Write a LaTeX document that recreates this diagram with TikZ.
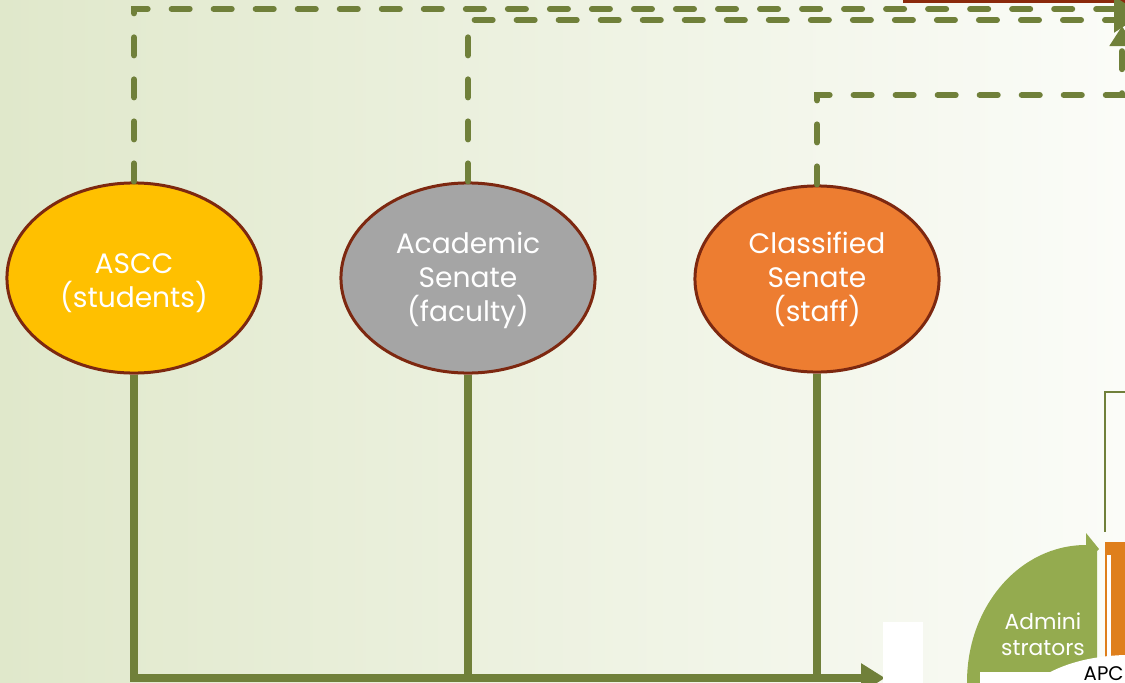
\documentclass[tikz,border=0pt]{standalone}
\usepackage{fontspec}
\setmainfont{Poppins}
\usetikzlibrary{arrows.meta, positioning, shapes.geometric}
\usepackage{xcolor}

\definecolor{bgleft}{RGB}{224,232,203}
\definecolor{bgright}{RGB}{251,252,248}
\definecolor{olivelink}{RGB}{112,128,58}
\definecolor{senateborder}{RGB}{125,40,16}
\definecolor{asccyellow}{RGB}{255,192,0}
\definecolor{facultygray}{RGB}{165,165,165}
\definecolor{stafforange}{RGB}{237,125,49}
\definecolor{admingreen}{RGB}{148,171,79}
\definecolor{barorange}{RGB}{223,127,28}
\definecolor{boxbrown}{RGB}{139,42,12}

\begin{document}
\begin{tikzpicture}[
    x=0.01cm, y=-0.01cm,
    senate/.style={ellipse, draw=senateborder, line width=0.03cm, inner sep=0pt,
        text=white, align=center, font=\fontsize{8}{9.7}\selectfont,
        minimum width=2.54cm, minimum height=1.9cm},
    dashlink/.style={olivelink, line width=0.06cm, line cap=round,
        dash pattern=on 0.18cm off 0.24cm},
    feedlink/.style={olivelink, line width=0.08cm},
    >={Triangle[length=0.24cm, width=0.28cm]}
]

\useasboundingbox (0,0) rectangle (1125,682);
\clip (0,0) rectangle (1125,682);
\shade[left color=bgleft, right color=bgright] (0,0) rectangle (1125,682);

% Nodes placed manually
\node[senate, fill=asccyellow] (ascc) at (134,278) {\rule{0pt}{0.3cm}ASCC\\(students)};
\node[senate, fill=facultygray] (acad) at (468,278) {\rule{0pt}{0.27cm}Academic\\Senate\\(faculty)};
\node[senate, fill=stafforange, minimum width=2.44cm, minimum height=1.86cm]
    (clsf) at (817,279) {Classified\\Senate\\(staff)};

\coordinate (topA) at (1134,9);
\coordinate (topB) at (1134,20);
\coordinate (bendC) at (1122,95);
\coordinate (topC) at (1122,26);
\coordinate (apcin) at (885,678);

% box cut at the top edge
\draw[boxbrown, fill=boxbrown!80!orange, line width=0.03cm] (904,-20) rectangle (1140,2);

% Dashed links to the top
\draw[dashlink, -{Triangle[length=0.2cm, width=0.24cm]}] (ascc.north) |- (topA);
\draw[dashlink, -{Triangle[length=0.2cm, width=0.24cm]}] (acad.north) |- (topB);
\draw[dashlink, -{Triangle[length=0.2cm, width=0.24cm]}] (clsf.north) |- (bendC) -- (topC);

% Solid links to the bottom
\draw[feedlink, ->] (ascc.south) |- (apcin);
\draw[feedlink] (acad.south) -- (acad.south |- apcin);
\draw[feedlink] (clsf.south) -- (clsf.south |- apcin);

\fill[white] (883,622) rectangle (923,690);

% right hand cycle, cut off
\draw[olivelink, line width=0.02cm] (1140,392) -- (1105,392) -- (1105,532);
\fill[admingreen] (967,690) -- (967,682) .. controls (967,606) and (1020,545) .. (1086,545)
    -- (1086,533) -- (1099,549) -- (1097,551) -- (1097,690) -- cycle;
\fill[barorange] (1105,542) rectangle (1130,690);
\fill[white] (1107,555) rectangle (1111,690);
\fill[white] (980,672) rectangle (1050,690);
\node[ellipse, fill=white, minimum width=2.2cm, minimum height=1.1cm, inner sep=0pt]
    (apc) at (1130,710) {};

\node[text=white, align=center, font=\fontsize{6.2}{7.4}\selectfont] (admin) at (1043,634)
    {Admini\\strators};
\node[anchor=base west, inner sep=0pt, font=\fontsize{5.6}{7}\selectfont] (apctext)
    at (1083,680) {APC};
\end{tikzpicture}
\end{document}
